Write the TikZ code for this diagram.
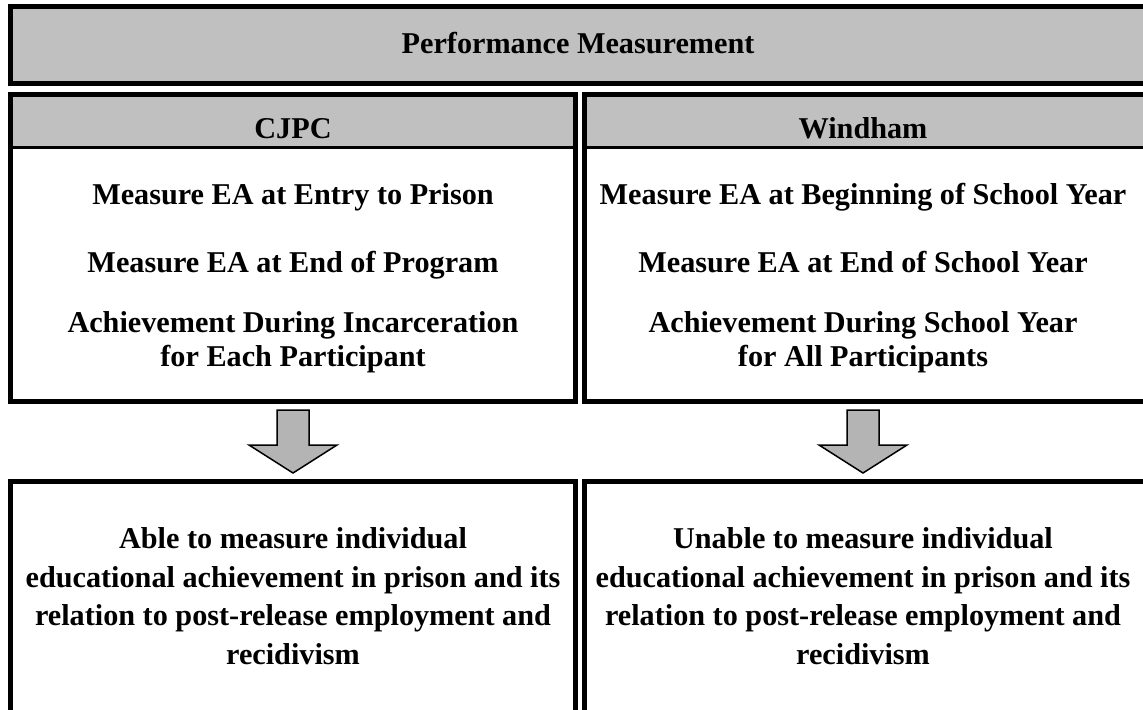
\documentclass[tikz,border=0pt]{standalone}
\usepackage{fontspec}
\setmainfont{Liberation Serif}
\usetikzlibrary{positioning}

\definecolor{headgray}{RGB}{192,192,192}
\definecolor{arrowgray}{RGB}{180,180,180}

\tikzset{
    frame/.style={draw, line width=0.1cm},
    rule/.style={draw, line width=0.054cm},
    label/.style={font=\bfseries\fontsize{17.2}{18.8}\selectfont, align=center, anchor=base, inner sep=0pt},
    widelabel/.style={label, font=\bfseries\fontsize{17.2}{21.9}\selectfont},
    blockarrow/.style={draw, fill=arrowgray, line width=0.03cm, line join=miter},
}

\begin{document}
\begin{tikzpicture}[x=0.02cm, y=-0.02cm]
            \useasboundingbox (0,0) rectangle (1143,710);

            % title band
            \draw[frame, fill=headgray] (10.5,6.5) rectangle (1148,83.5);
            \node[label] (title) at (578,53) {Performance Measurement};

            % the two columns
            \fill[headgray] (10.5,94.5) rectangle (575.5,147);
            \fill[headgray] (584.5,94.5) rectangle (1148,147);
            \draw[rule] (10.5,147.3) -- (575.5,147.3);
            \draw[rule] (584.5,147.3) -- (1148,147.3);
            \draw[frame] (10.5,94.5) rectangle (575.5,401.5);
            \draw[frame] (584.5,94.5) rectangle (1148,401.5);

            \node[label] (cjpc) at (293,138) {CJPC};
            \node[label] (windham) at (863,138) {Windham};

            \node[label] (cjpc entry) at (293,204) {Measure EA at Entry to Prison};
            \node[label] (cjpc end) at (293,272) {Measure EA at End of Program};
            % base of a two line node sits on its last line
            \node[label] (cjpc gain) at (293,366)
                {Achievement During Incarceration\\for Each Participant};

            \node[label] (wind begin) at (863,204) {Measure EA at Beginning of School Year};
            \node[label] (wind end) at (863,272) {Measure EA at End of School Year};
            \node[label] (wind gain) at (863,366)
                {Achievement During School Year\\for All Participants};

            % down arrows
            \foreach \cx in {293, 863}
                \draw[blockarrow] (\cx-16,410) -- (\cx+16,410) -- (\cx+16,445) -- (\cx+44,445)
                    -- (\cx,473) -- (\cx-44,445) -- (\cx-16,445) -- cycle;

            % result boxes
            \draw[frame] (10.5,481.5) rectangle (575.5,760);
            \draw[frame] (584.5,481.5) rectangle (1148,760);

            \node[widelabel] (cjpc result) at (293,664)
                {Able to measure individual\\educational achievement in prison and its\\relation to post-release employment and\\recidivism};
            \node[widelabel] (wind result) at (863,664)
                {Unable to measure individual\\educational achievement in prison and its\\relation to post-release employment and\\recidivism};
        \end{tikzpicture}
\end{document}
